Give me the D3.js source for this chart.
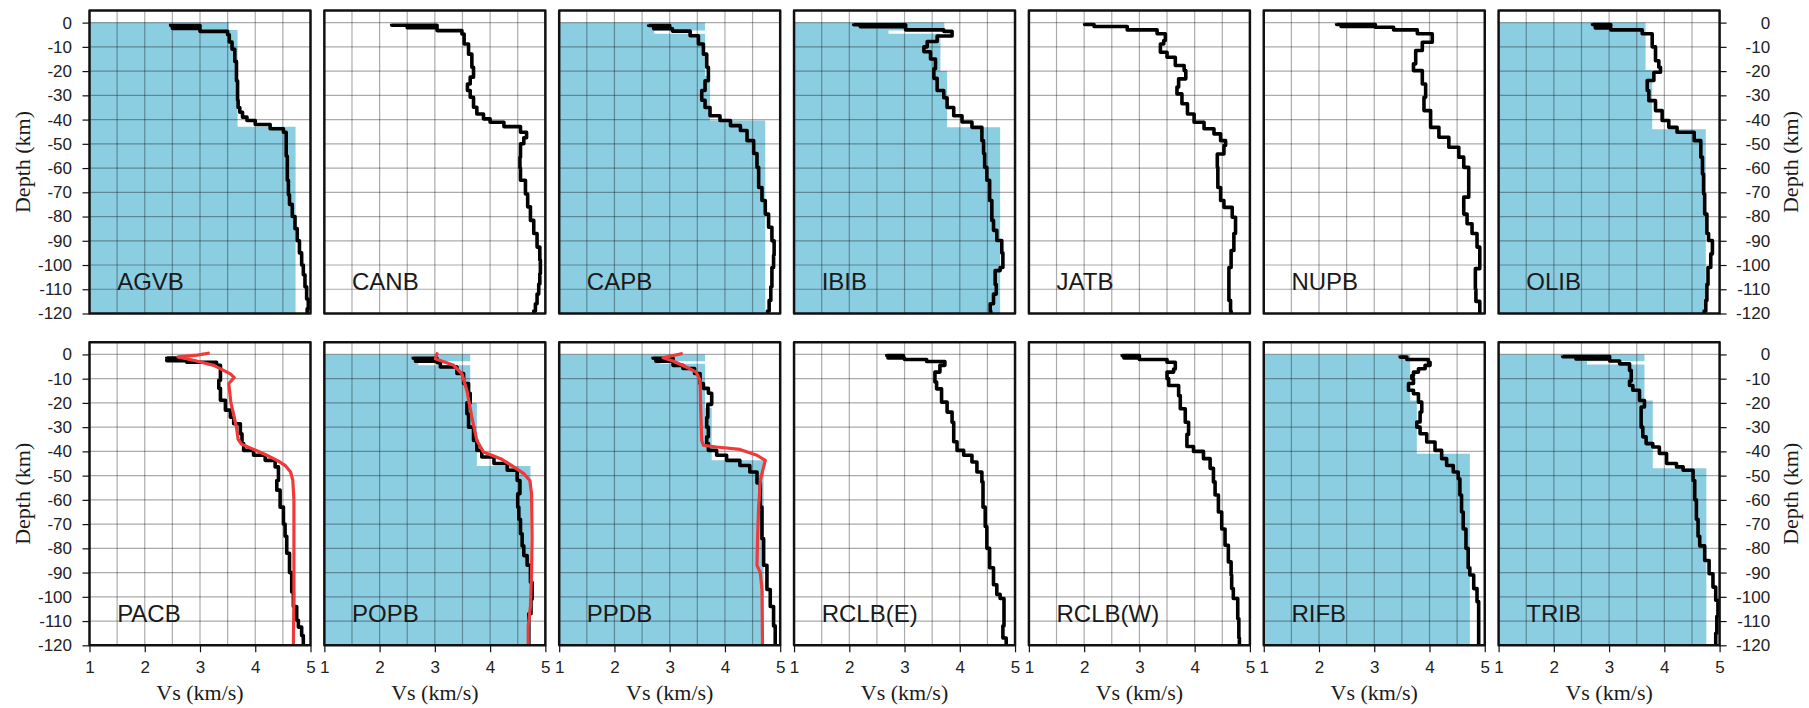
<!DOCTYPE html>
<html>
<head>
<meta charset="utf-8">
<script src="https://cdn.jsdelivr.net/npm/d3@7"></script>
<style>
  html, body { margin: 0; padding: 0; background: #fff; }
  svg { display: block; }
</style>
</head>
<body>
<svg id="chart" width="1809" height="708"></svg>
<script>
// Station names, laid out in two rows of seven
const stationsTop = ["AGVB", "CANB", "CAPB", "IBIB", "JATB", "NUPB", "OLIB"];
const stationsBottom = ["PACB", "POPB", "PPDB", "RCLB(E)", "RCLB(W)", "RIFB", "TRIB"];

const vsTicks = [1, 2, 3, 4, 5];
const depthTicks = [0, -10, -20, -30, -40, -50, -60, -70, -80, -90, -100, -110, -120];

// Inverted shear-velocity profiles: [top of step (km), Vs (km/s)]
const agvbVs = [[-0.5,2.47],[-1.2,3.0],[-1.8,2.5],[-2.4,3.0],[-3.6,3.5],[-5,3.53],[-8,3.58],[-11,3.63],[-16,3.66],[-24,3.68],[-32,3.69],[-35,3.72],[-37,3.77],[-39,3.85],[-40.4,4.0],[-42,4.27],[-43.8,4.51],[-45.2,4.56],[-55,4.58],[-65,4.6],[-71,4.62],[-75,4.67],[-80,4.72],[-85,4.76],[-90,4.8],[-95,4.84],[-100,4.87],[-104,4.9],[-109,4.93],[-114,4.96],[-118,4.94]];
const canbVs = [[-0.5,2.22],[-1.1,3.04],[-1.6,2.5],[-2.1,3.04],[-3.3,3.49],[-4.7,3.53],[-8.8,3.61],[-13,3.67],[-18.4,3.7],[-22.5,3.64],[-25.3,3.59],[-28,3.64],[-30.8,3.7],[-34.9,3.76],[-37.7,3.88],[-39.7,4.0],[-41.1,4.25],[-42.9,4.55],[-45.2,4.66],[-47.5,4.61],[-50,4.55],[-55.5,4.54],[-60,4.55],[-65,4.64],[-70.7,4.68],[-76,4.73],[-81.6,4.79],[-87,4.85],[-92.6,4.9],[-98,4.91],[-103.6,4.9],[-107.8,4.88],[-112,4.85],[-116,4.82],[-119,4.79]];
const capbVs = [[-0.8,2.62],[-1.2,3.0],[-1.8,2.71],[-2.5,3.05],[-3.5,3.37],[-5.4,3.52],[-8.8,3.61],[-13,3.67],[-18.4,3.7],[-24,3.64],[-28,3.58],[-32,3.64],[-35,3.73],[-38.4,3.91],[-40.4,4.1],[-42.5,4.28],[-44.5,4.4],[-48.7,4.52],[-54,4.58],[-59.7,4.61],[-68,4.67],[-73.4,4.73],[-79,4.79],[-84.4,4.85],[-90,4.89],[-96,4.88],[-101,4.85],[-109,4.83],[-114.6,4.8],[-119,4.77]];
const ibibVs = [[-0.4,2.08],[-0.9,3.02],[-1.3,2.2],[-1.7,3.02],[-3.0,3.71],[-3.6,3.86],[-5.5,3.59],[-7.8,3.41],[-10,3.35],[-12,3.47],[-15,3.56],[-19,3.53],[-23,3.59],[-28,3.71],[-31,3.77],[-35,3.89],[-38.4,4.04],[-41,4.22],[-43.2,4.4],[-48.7,4.43],[-54,4.45],[-59.7,4.49],[-65,4.54],[-73.4,4.58],[-81.6,4.61],[-85.7,4.67],[-89.9,4.76],[-95,4.78],[-101,4.73],[-102.3,4.64],[-108,4.66],[-112,4.61],[-116,4.55],[-119,4.56]];
const jatbVs = [[-0.3,2.01],[-0.8,2.18],[-1.6,2.78],[-3.0,3.32],[-4.6,3.47],[-7.4,3.44],[-8.8,3.38],[-12.2,3.5],[-14.3,3.65],[-17.7,3.81],[-19.8,3.84],[-23.2,3.71],[-26.6,3.68],[-29.4,3.77],[-33.5,3.87],[-37.7,3.99],[-41.1,4.17],[-43.8,4.35],[-45.9,4.47],[-48.7,4.56],[-50.7,4.53],[-54.2,4.41],[-59.7,4.42],[-68,4.47],[-73.4,4.53],[-76.2,4.68],[-80.3,4.74],[-87,4.71],[-94,4.66],[-101,4.62],[-108,4.62],[-114.6,4.65],[-119,4.66]];
const nupbVs = [[-0.3,2.32],[-0.8,3.02],[-1.2,2.4],[-1.6,3.02],[-1.9,3.35],[-3.0,3.78],[-4.6,4.05],[-8.1,3.87],[-11.5,3.75],[-17,3.71],[-19.8,3.87],[-25.3,3.93],[-30.8,3.9],[-36.3,4.02],[-43.2,4.17],[-47.3,4.35],[-51.4,4.53],[-55.5,4.62],[-59.7,4.71],[-68,4.71],[-72,4.62],[-79,4.68],[-83,4.77],[-87,4.86],[-92.6,4.91],[-101.5,4.83],[-110,4.84],[-115,4.91]];
const olibVs = [[-0.3,2.7],[-0.8,3.03],[-1.5,2.75],[-2.2,3.03],[-3.0,3.6],[-4.6,3.78],[-10,3.84],[-15.7,3.9],[-18.4,3.93],[-20.5,3.81],[-23.9,3.69],[-28,3.72],[-32.2,3.84],[-36.3,3.96],[-40.4,4.08],[-43.2,4.23],[-45.2,4.54],[-48.7,4.66],[-55.5,4.69],[-62.5,4.71],[-70.6,4.73],[-79,4.77],[-87,4.8],[-89.9,4.87],[-95.4,4.84],[-101,4.79],[-108,4.77],[-114.6,4.75],[-119,4.72]];
const pacbVs = [[-1.0,2.4],[-1.5,2.64],[-2.0,2.4],[-2.6,2.76],[-3.2,3.3],[-4.5,3.37],[-10.7,3.34],[-14,3.37],[-18.9,3.46],[-23,3.55],[-25.9,3.61],[-28.6,3.73],[-32.7,3.76],[-36.8,3.79],[-39.6,3.97],[-41.6,4.18],[-43.7,4.36],[-46.4,4.42],[-52,4.39],[-56,4.45],[-63,4.51],[-70,4.54],[-75,4.57],[-82,4.62],[-90,4.66],[-98,4.69],[-104,4.75],[-109.7,4.78],[-112.5,4.84],[-116,4.87]];
const popbVs = [[-1.0,2.61],[-1.6,3.04],[-2.2,2.65],[-2.8,3.04],[-3.4,3.1],[-5.2,3.4],[-7.9,3.52],[-12,3.61],[-16,3.64],[-20,3.58],[-24.5,3.61],[-30,3.7],[-35.5,3.76],[-39.6,3.85],[-42.3,4.07],[-45,4.31],[-47.8,4.49],[-52,4.54],[-57.5,4.5],[-63,4.52],[-68,4.55],[-74,4.58],[-79,4.61],[-83,4.67],[-87,4.73],[-94,4.76],[-101,4.74],[-107,4.7],[-115,4.7]];
const ppdbVs = [[-1.0,2.7],[-1.6,3.06],[-2.2,2.75],[-2.8,3.06],[-4.5,3.24],[-5.8,3.45],[-7.9,3.55],[-12,3.61],[-14,3.7],[-16,3.76],[-20.6,3.69],[-26,3.67],[-30,3.7],[-34,3.67],[-36.8,3.7],[-39.6,3.85],[-41.6,4.03],[-43.7,4.27],[-45.8,4.45],[-48.5,4.58],[-53,4.64],[-63,4.67],[-76,4.7],[-87,4.76],[-97,4.82],[-104,4.88],[-112,4.91]];
const rclbeVs = [[0.2,2.68],[-0.5,2.98],[-1.0,2.7],[-1.5,3.0],[-2.1,3.4],[-2.9,3.73],[-4.5,3.64],[-7.3,3.55],[-11.4,3.58],[-14.2,3.67],[-19.7,3.77],[-23.8,3.86],[-28,3.89],[-36,3.95],[-39.6,4.07],[-41.6,4.22],[-44.4,4.31],[-48.5,4.4],[-52.6,4.42],[-63,4.46],[-71,4.49],[-80,4.54],[-88,4.61],[-95,4.67],[-99,4.73],[-100.7,4.8],[-112,4.78],[-117,4.84]];
const rclbwVs = [[0.2,2.69],[-0.5,3.0],[-1.0,2.72],[-1.5,3.0],[-2.1,3.5],[-3.2,3.65],[-6,3.62],[-7.3,3.5],[-10,3.53],[-12.8,3.71],[-17,3.74],[-22.4,3.83],[-28,3.89],[-33,3.86],[-38,3.98],[-40,4.16],[-43,4.28],[-47,4.34],[-52.6,4.37],[-58,4.43],[-65,4.49],[-72,4.55],[-78.7,4.61],[-85.6,4.66],[-91,4.67],[-96.6,4.7],[-100.7,4.78],[-109,4.8],[-117,4.81]];
const rifbVs = [[-0.4,3.47],[-1.1,3.59],[-2.1,3.98],[-3.2,4.01],[-4.5,3.92],[-5.9,3.8],[-7.3,3.71],[-8.7,3.68],[-10,3.71],[-12,3.62],[-14.8,3.71],[-16.2,3.8],[-19.7,3.86],[-23.8,3.83],[-27.9,3.77],[-30,3.83],[-32.7,3.95],[-36.1,4.1],[-39.6,4.22],[-43,4.31],[-45.8,4.43],[-48.5,4.52],[-51.3,4.55],[-58,4.58],[-65,4.61],[-72,4.66],[-80,4.7],[-88,4.73],[-91,4.8],[-96.6,4.86],[-102,4.89],[-110,4.89],[-118,4.89]];
const tribVs = [[-0.4,2.16],[-0.9,3.01],[-1.4,2.4],[-1.9,3.01],[-2.7,3.19],[-3.9,3.37],[-6.6,3.4],[-11,3.37],[-12.8,3.43],[-14.8,3.55],[-19,3.64],[-21.7,3.58],[-27,3.58],[-30,3.61],[-34,3.67],[-36.8,3.79],[-38.2,3.91],[-40.9,4.04],[-45,4.22],[-46.4,4.34],[-47.8,4.52],[-52,4.55],[-60,4.58],[-68,4.61],[-75,4.64],[-79,4.73],[-85,4.81],[-90.5,4.88],[-96,4.93],[-101.4,4.97],[-108,4.95],[-115,4.93]];

// Layered reference crust/mantle models (shaded): [top of layer (km), Vs (km/s)]
const agvbModel = [[0,3.52],[-3,3.68],[-43,4.73]];
const capbModel = [[0,3.64],[-3.3,2.72],[-4.6,3.64],[-22,3.73],[-40.4,4.73]];
const ibibModel = [[0,3.72],[-3.2,2.71],[-4.6,3.65],[-20,3.77],[-43.2,4.73]];
const olibModel = [[0,3.66],[-19.5,3.78],[-44,4.75]];
const popbModel = [[0,3.64],[-2.8,2.7],[-4.5,3.64],[-20,3.76],[-46,4.73]];
const ppdbModel = [[0,3.64],[-2.8,2.82],[-3.8,3.64],[-22,3.76],[-43.7,4.7]];
const rifbModel = [[0,3.65],[-19,3.77],[-41,4.73]];
const tribModel = [[0,3.64],[-2.8,2.6],[-4.2,3.64],[-19,3.79],[-47,4.76]];

// Smooth comparison profiles (red): [depth (km), Vs (km/s)]
const pacbSmooth = [[0.5,3.15],[-0.3,2.95],[-1.0,2.6],[-2.5,2.9],[-4.5,3.25],[-8.0,3.55],[-9.6,3.62],[-12.0,3.52],[-20,3.56],[-30,3.66],[-35,3.69],[-37,3.75],[-39,3.95],[-41.5,4.2],[-44,4.42],[-46,4.55],[-48.5,4.64],[-52,4.68],[-60,4.7],[-80,4.7],[-100,4.7],[-120,4.69]];
const popbSmooth = [[0.3,3.04],[-1.8,3.01],[-4.5,3.34],[-8,3.49],[-15,3.58],[-25.8,3.67],[-35.5,3.76],[-40.3,3.88],[-43,4.19],[-46.4,4.43],[-49.2,4.61],[-52,4.72],[-57.5,4.75],[-76,4.76],[-90,4.75],[-104,4.73],[-112,4.69],[-120,4.69]];
const ppdbSmooth = [[0.3,3.21],[-1.4,2.88],[-2.7,3.06],[-5.2,3.3],[-7.3,3.48],[-10.7,3.55],[-21.7,3.56],[-35.5,3.58],[-37.5,3.61],[-38.2,3.85],[-39.2,4.27],[-41.6,4.58],[-43.7,4.73],[-46.4,4.7],[-52,4.64],[-63,4.61],[-76,4.59],[-87,4.58],[-90,4.64],[-97,4.67],[-120,4.68]];

// Panel table assembled from the arrays above
const panels = [
  { name: stationsTop[0], vs: agvbVs, model: agvbModel, smooth: null },
  { name: stationsTop[1], vs: canbVs, model: null, smooth: null },
  { name: stationsTop[2], vs: capbVs, model: capbModel, smooth: null },
  { name: stationsTop[3], vs: ibibVs, model: ibibModel, smooth: null },
  { name: stationsTop[4], vs: jatbVs, model: null, smooth: null },
  { name: stationsTop[5], vs: nupbVs, model: null, smooth: null },
  { name: stationsTop[6], vs: olibVs, model: olibModel, smooth: null },
  { name: stationsBottom[0], vs: pacbVs, model: null, smooth: pacbSmooth },
  { name: stationsBottom[1], vs: popbVs, model: popbModel, smooth: popbSmooth },
  { name: stationsBottom[2], vs: ppdbVs, model: ppdbModel, smooth: ppdbSmooth },
  { name: stationsBottom[3], vs: rclbeVs, model: null, smooth: null },
  { name: stationsBottom[4], vs: rclbwVs, model: null, smooth: null },
  { name: stationsBottom[5], vs: rifbVs, model: rifbModel, smooth: null },
  { name: stationsBottom[6], vs: tribVs, model: tribModel, smooth: null }
];

// Layout
const PANEL_W = 221;
const PITCH = 234.85;
const LEFT0 = 89.5;
const ROWS = [{ top: 10.5, bottom: 313.5 }, { top: 342.3, bottom: 645.3 }];
const SANS = "'Liberation Sans', Arial, Helvetica, sans-serif";
const SERIF = "'Liberation Serif', 'Times New Roman', Times, serif";
const FILL = "#8bcde1";

const svg = d3.select("#chart");
const defs = svg.append("defs");

const gridVs = d3.range(1.5, 5, 0.5);
const gridDepth = d3.range(0, -120, -10);

panels.forEach((p, i) => {
  const row = Math.floor(i / 7), col = i % 7;
  const left = LEFT0 + col * PITCH;
  const x = d3.scaleLinear().domain([1, 5]).range([left, left + PANEL_W]);
  const y = d3.scaleLinear().domain([-120, 5]).range([ROWS[row].bottom, ROWS[row].top]);

  const clipId = "clip" + i;
  defs.append("clipPath").attr("id", clipId)
    .append("rect")
    .attr("x", x(1)).attr("y", y(5))
    .attr("width", x(5) - x(1)).attr("height", y(-120) - y(5));

  const g = svg.append("g");
  const plot = g.append("g").attr("clip-path", `url(#${clipId})`);

  // shaded layered model
  if (p.model) {
    const last = p.model[p.model.length - 1];
    const steps = p.model.concat([[-120, last[1]]]);
    const area = d3.area()
      .curve(d3.curveStepBefore)
      .y(d => y(d[0]))
      .x0(x(1))
      .x1(d => x(d[1]));
    plot.append("path").attr("d", area(steps)).attr("fill", FILL);
  }

  // grid
  plot.append("g").selectAll("line").data(gridVs).join("line")
    .attr("x1", d => x(d)).attr("x2", d => x(d))
    .attr("y1", y(5)).attr("y2", y(-120))
    .attr("stroke", "#000").attr("stroke-opacity", 0.33).attr("stroke-width", 1.2);
  plot.append("g").selectAll("line").data(gridDepth).join("line")
    .attr("x1", x(1)).attr("x2", x(5))
    .attr("y1", d => y(d)).attr("y2", d => y(d))
    .attr("stroke", "#000").attr("stroke-opacity", 0.33).attr("stroke-width", 1.2);

  // stepped inversion profile
  const lastVs = p.vs[p.vs.length - 1];
  const profile = p.vs.concat([[-120, lastVs[1]]]);
  const stepLine = d3.line()
    .curve(d3.curveStepBefore)
    .x(d => x(d[1]))
    .y(d => y(d[0]));
  plot.append("path").attr("d", stepLine(profile))
    .attr("fill", "none").attr("stroke", "#000")
    .attr("stroke-width", 3.6).attr("stroke-linejoin", "round");

  // smooth profile
  if (p.smooth) {
    const smoothLine = d3.line().x(d => x(d[1])).y(d => y(d[0]));
    plot.append("path").attr("d", smoothLine(p.smooth))
      .attr("fill", "none").attr("stroke", "#f03a3a")
      .attr("stroke-width", 3.2).attr("stroke-linejoin", "round")
      .attr("stroke-linecap", "round");
  }

  // station label
  g.append("text")
    .attr("x", x(1.5)).attr("y", y(-110.5))
    .attr("font-family", SANS).attr("font-size", 24)
    .attr("fill", "#1a1a1a")
    .text(p.name);

  // frame
  g.append("rect")
    .attr("x", x(1)).attr("y", y(5))
    .attr("width", x(5) - x(1)).attr("height", y(-120) - y(5))
    .attr("fill", "none").attr("stroke", "#111").attr("stroke-width", 2.5)
    .attr("stroke-linejoin", "round");

  // left depth axis on first column
  if (col === 0) {
    const ax = g.append("g").attr("transform", `translate(${x(1)},0)`)
      .call(d3.axisLeft(y).tickValues(depthTicks).tickSize(7).tickPadding(10.5)
        .tickFormat(d => String(d)));
    styleAxis(ax);
    g.append("text")
      .attr("transform", `translate(22,${(y(5) + y(-120)) / 2}) rotate(-90)`)
      .attr("text-anchor", "middle").attr("dominant-baseline", "central")
      .attr("font-family", SERIF).attr("font-size", 22).attr("fill", "#1a1a1a")
      .text("Depth (km)");
  }

  // right depth axis on last column
  if (col === 6) {
    const ax = g.append("g").attr("transform", `translate(${x(5)},0)`)
      .call(d3.axisRight(y).tickValues(depthTicks).tickSize(7).tickPadding(10)
        .tickFormat(d => String(d)));
    styleAxis(ax);
    ax.selectAll(".tick text").attr("text-anchor", "end").attr("x", 50.5);
    g.append("text")
      .attr("transform", `translate(1790,${(y(5) + y(-120)) / 2}) rotate(-90)`)
      .attr("text-anchor", "middle").attr("dominant-baseline", "central")
      .attr("font-family", SERIF).attr("font-size", 22).attr("fill", "#1a1a1a")
      .text("Depth (km)");
  }

  // Vs axis on the bottom row
  if (row === 1) {
    const ax = g.append("g").attr("transform", `translate(0,${y(-120)})`)
      .call(d3.axisBottom(x).tickValues(vsTicks).tickSize(7).tickPadding(9)
        .tickFormat(d => String(d)));
    styleAxis(ax);
    g.append("text")
      .attr("x", (x(1) + x(5)) / 2).attr("y", 700)
      .attr("text-anchor", "middle")
      .attr("font-family", SERIF).attr("font-size", 22).attr("fill", "#1a1a1a")
      .text("Vs (km/s)");
  }
});

function styleAxis(ax) {
  ax.select(".domain").remove();
  ax.attr("font-family", SANS).attr("font-size", 17);
  ax.selectAll(".tick line").attr("stroke", "#111").attr("stroke-width", 1.2);
  ax.selectAll(".tick text").attr("fill", "#222");
}
</script>
</body>
</html>
